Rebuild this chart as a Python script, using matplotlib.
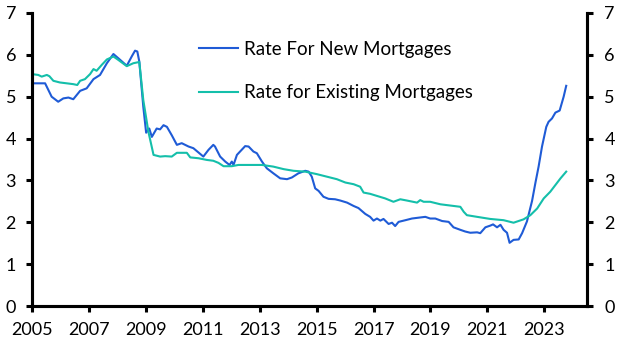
import numpy as np
import matplotlib
matplotlib.use("Agg")
import matplotlib.pyplot as plt

plt.rcParams['font.family'] = ['Lato', 'DejaVu Sans']

# rate for new mortgages (%), decimal year
new_dates = [2005.00, 2005.46, 2005.69, 2005.92, 2006.10, 2006.28, 2006.45, 2006.69, 2006.92,
             2007.16, 2007.39, 2007.63, 2007.86, 2008.03, 2008.33, 2008.51, 2008.62, 2008.70,
             2008.77, 2008.91, 2009.01, 2009.12, 2009.21, 2009.38, 2009.50, 2009.62, 2009.74,
             2009.91, 2010.09, 2010.26, 2010.50, 2010.67, 2010.88, 2011.02, 2011.20, 2011.37,
             2011.43, 2011.61, 2011.79, 2011.94, 2012.02, 2012.08, 2012.20, 2012.31, 2012.49,
             2012.61, 2012.78, 2012.90, 2013.08, 2013.25, 2013.48, 2013.72, 2013.96, 2014.13,
             2014.36, 2014.60, 2014.72, 2014.83, 2014.95, 2015.07, 2015.24, 2015.42, 2015.65,
             2015.83, 2016.07, 2016.30, 2016.47, 2016.71, 2016.88, 2017.00, 2017.12, 2017.24,
             2017.35, 2017.53, 2017.65, 2017.76, 2017.88, 2018.12, 2018.35, 2018.58, 2018.82,
             2018.99, 2019.17, 2019.41, 2019.64, 2019.81, 2020.05, 2020.22, 2020.40, 2020.64,
             2020.75, 2020.93, 2021.10, 2021.20, 2021.34, 2021.46, 2021.57, 2021.69, 2021.78,
             2021.92, 2022.10, 2022.22, 2022.39, 2022.57, 2022.69, 2022.80, 2022.92, 2023.07,
             2023.15, 2023.27, 2023.39, 2023.54, 2023.68, 2023.77]
new_rate = [5.32, 5.32, 5.00, 4.88, 4.96, 4.98, 4.94, 5.14, 5.20,
            5.42, 5.52, 5.80, 6.02, 5.92, 5.74, 5.97, 6.10, 6.08,
            5.84, 4.76, 4.14, 4.24, 4.04, 4.24, 4.22, 4.32, 4.28,
            4.08, 3.85, 3.89, 3.81, 3.77, 3.65, 3.57, 3.73, 3.85,
            3.81, 3.57, 3.45, 3.37, 3.45, 3.37, 3.61, 3.69, 3.82,
            3.81, 3.69, 3.65, 3.45, 3.29, 3.17, 3.05, 3.03, 3.07,
            3.17, 3.23, 3.21, 3.09, 2.81, 2.75, 2.61, 2.56, 2.55,
            2.52, 2.47, 2.39, 2.34, 2.20, 2.13, 2.04, 2.09, 2.04,
            2.08, 1.96, 1.99, 1.91, 2.01, 2.05, 2.09, 2.11, 2.13,
            2.09, 2.09, 2.03, 2.01, 1.88, 1.82, 1.78, 1.75, 1.76,
            1.74, 1.88, 1.92, 1.95, 1.88, 1.94, 1.82, 1.75, 1.51,
            1.58, 1.59, 1.74, 2.02, 2.51, 2.95, 3.33, 3.81, 4.28,
            4.40, 4.48, 4.62, 4.67, 5.00, 5.26]

# rate for existing mortgages (%)
old_dates = [2005.00, 2005.22, 2005.34, 2005.52, 2005.61, 2005.75, 2005.98, 2006.22, 2006.45,
             2006.59, 2006.69, 2006.86, 2007.04, 2007.16, 2007.27, 2007.45, 2007.63, 2007.86,
             2008.03, 2008.33, 2008.56, 2008.77, 2008.91, 2009.09, 2009.27, 2009.50, 2009.68,
             2009.91, 2010.09, 2010.44, 2010.56, 2010.85, 2011.14, 2011.37, 2011.55, 2011.73,
             2012.02, 2012.25, 2012.67, 2013.08, 2013.48, 2013.84, 2014.19, 2014.60, 2015.01,
             2015.36, 2015.71, 2016.01, 2016.30, 2016.53, 2016.65, 2016.88, 2017.12, 2017.41,
             2017.70, 2017.94, 2018.17, 2018.53, 2018.64, 2018.76, 2018.99, 2019.35, 2019.70,
             2020.05, 2020.17, 2020.28, 2020.64, 2021.10, 2021.57, 2021.92, 2022.27, 2022.51,
             2022.75, 2022.98, 2023.21, 2023.39, 2023.57, 2023.77]
old_rate = [5.54, 5.52, 5.48, 5.52, 5.49, 5.38, 5.34, 5.32, 5.30,
            5.28, 5.38, 5.42, 5.54, 5.66, 5.62, 5.76, 5.89, 5.96,
            5.88, 5.73, 5.80, 5.83, 4.92, 4.16, 3.61, 3.57, 3.58,
            3.57, 3.66, 3.66, 3.55, 3.53, 3.49, 3.47, 3.42, 3.34,
            3.34, 3.37, 3.37, 3.37, 3.33, 3.27, 3.23, 3.21, 3.15,
            3.09, 3.03, 2.95, 2.91, 2.85, 2.71, 2.68, 2.63, 2.57,
            2.49, 2.55, 2.52, 2.47, 2.53, 2.49, 2.49, 2.43, 2.40,
            2.37, 2.25, 2.17, 2.13, 2.08, 2.05, 1.99, 2.07, 2.17,
            2.33, 2.57, 2.73, 2.89, 3.05, 3.21]

x_ticks = [2005, 2007, 2009, 2011, 2013, 2015, 2017, 2019, 2021, 2023]
y_ticks = [0, 1, 2, 3, 4, 5, 6, 7]

blue = '#1f5bd6'
teal = '#14bfaa'

fig = plt.figure(figsize=(6.29, 3.55), dpi=100)
ax = fig.add_axes([0.0509, 0.138, 0.8823, 0.8254])

ax.plot(new_dates, new_rate, color=blue, lw=1.5, label='Rate For New Mortgages')
ax.plot(old_dates, old_rate, color=teal, lw=1.5, label='Rate for Existing Mortgages')

ax.set_xlim(2005, 2024.5)
ax.set_ylim(0, 7)
ax.set_xticks(x_ticks)
ax.set_yticks(y_ticks)

ax2 = ax.twinx()
ax2.set_ylim(0, 7)
ax2.set_yticks(y_ticks)

for a in (ax, ax2):
    a.spines['top'].set_visible(False)
    for s in ('left', 'right', 'bottom'):
        a.spines[s].set_linewidth(2.2)
    a.tick_params(width=2.2, length=4.5, labelsize=13, colors='black')
ax.tick_params(axis='y', pad=7)
ax.tick_params(axis='x', pad=7)
ax2.tick_params(axis='y', pad=8)

ax.legend(loc='upper left', bbox_to_anchor=(0.30, 0.905), frameon=False,
          fontsize=13.5, handlelength=2.1, handletextpad=0.3, labelspacing=1.4,
          borderpad=0, borderaxespad=0)

fig.savefig('out.png', dpi=100)
